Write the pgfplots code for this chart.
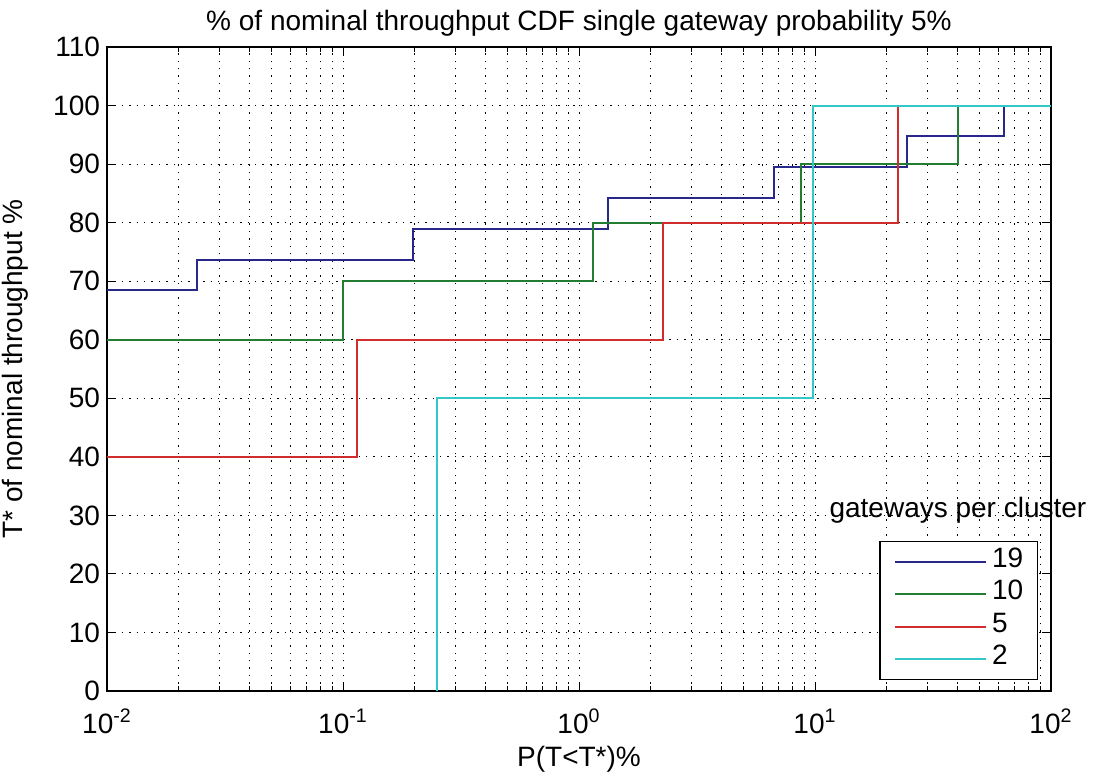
\documentclass[border=0pt]{standalone}
\usepackage{fontspec}
\setmainfont{Liberation Sans}
\usepackage{pgfplots}
\pgfplotsset{compat=1.18}

\definecolor{g19}{RGB}{40,40,140}
\definecolor{g10}{RGB}{35,125,50}
\definecolor{g5}{RGB}{210,45,45}
\definecolor{g2}{RGB}{50,200,200}

\begin{document}
\begin{tikzpicture}
\begin{axis}[
    at={(0,0)}, anchor=south west,
    scale only axis,
    width=472pt, height=322pt,
    xmode=log,
    xmin=0.01, xmax=100,
    ymin=0, ymax=110,
    clip mode=individual,
    xtick={0.01,0.1,1,10,100},
    xticklabels={10\textsuperscript{-2},10\textsuperscript{-1},10\textsuperscript{0},10\textsuperscript{1},10\textsuperscript{2}},
    ytick={0,10,...,110},
    /pgf/number format/assume math mode=true,
    font=\fontsize{14}{16}\selectfont,
    tick label style={font=\fontsize{14}{16}\selectfont},
    xticklabel style={anchor=base, yshift=-21pt},
    xmajorgrids, xminorgrids, ymajorgrids,
    grid style={black, line width=0.5pt, dash pattern=on 0.7pt off 3pt},
    minor grid style={black, line width=0.5pt, dash pattern=on 0.7pt off 3pt},
    tick align=inside,
    xtick pos=both, ytick pos=both,
    major tick length=4.5pt, minor tick length=2.5pt,
    every tick/.style={black, line width=0.5pt},
    axis line style={black, line width=0.7pt},
    every axis title shift=0pt,
    title={\% of nominal throughput CDF single gateway probability 5\%},
    title style={at={(axis description cs:0.5,1.0264)}, anchor=base, inner sep=0pt},
    xlabel={P(T<T*)\%},
    xlabel style={at={(axis description cs:0.5,-0.1165)}, anchor=base, inner sep=0pt},
    ylabel={T* of nominal throughput \%},
    ylabel style={at={(axis description cs:-0.0975,0.5)}, anchor=center, inner sep=0pt},
    legend style={at={(axis description cs:0.986,0.017)}, anchor=south east,
        draw=black, line width=0.6pt, fill=white,
        inner xsep=7pt, inner ysep=2pt, column sep=2.5pt,
        nodes={text height=11pt, text depth=5.25pt, inner xsep=0pt, inner ysep=0pt},
        font=\fontsize{14}{16}\selectfont},
    legend cell align=left,
    legend image code/.code={\draw[#1, line width=1pt] (0pt,0pt) -- (45.5pt,0pt);},
    every axis plot/.append style={line width=1pt, const plot},
]

% 19 gateways per cluster
\addplot[g19] coordinates {
    (0.01,68.42) (0.024,73.68) (0.198,78.95) (1.33,84.21)
    (6.68,89.47) (24.6,94.74) (63,100)
};
\addlegendentry{19}

% 10 gateways per cluster
\addplot[g10] coordinates {
    (0.01,60) (0.1004,70) (1.15,80) (8.71,90) (40.4,100)
};
\addlegendentry{10}

% 5 gateways per cluster
\addplot[g5] coordinates {
    (0.01,40) (0.115,60) (2.26,80) (22.5,100)
};
\addlegendentry{5}

% 2 gateways per cluster
\addplot[g2] coordinates {
    (0.25,0) (0.25,50) (9.84,100) (100,100)
};
\addlegendentry{2}

\node[anchor=base west, inner sep=0pt, font=\fontsize{14}{16}\selectfont]
    at (axis description cs:0.765,0.27) {gateways per cluster};
\end{axis}
\pgfresetboundingbox
\path[use as bounding box] (-53.5pt,-43.5pt) rectangle (494pt,345.5pt);
\end{tikzpicture}
\end{document}
